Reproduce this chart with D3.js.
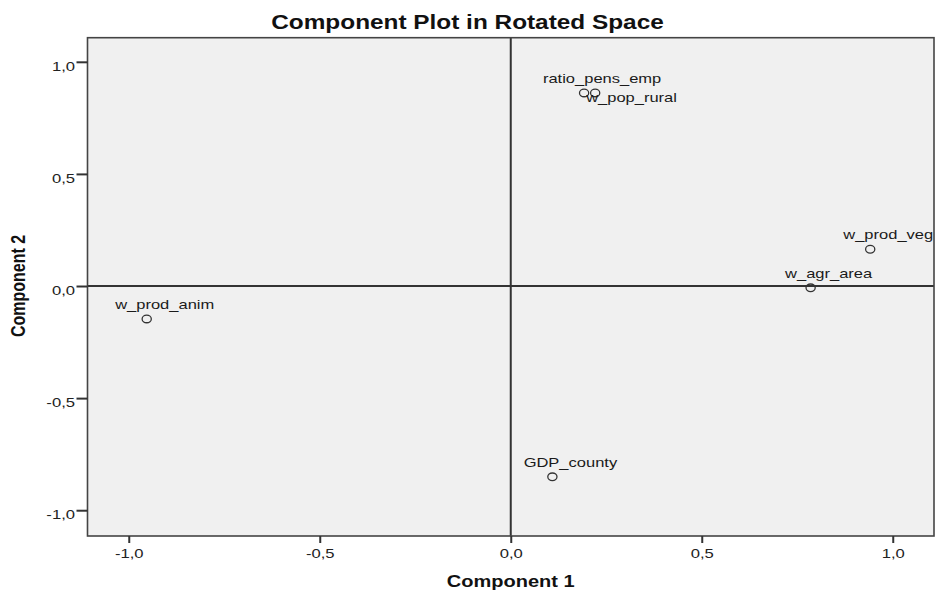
<!DOCTYPE html>
<html>
<head>
<meta charset="utf-8">
<script src="https://cdn.jsdelivr.net/npm/d3@7"></script>
<style>
  html, body { margin: 0; padding: 0; background: #fff; }
  svg { display: block; }
  text { font-family: "Liberation Sans", Arial, sans-serif; }
</style>
</head>
<body>
<svg id="chart" width="935" height="590"></svg>
<script>
// ---- data ----
const variables  = ["ratio_pens_emp", "w_pop_rural", "w_prod_veg", "w_agr_area", "w_prod_anim", "GDP_county"];
const component1 = [0.192, 0.221, 0.941, 0.785, -0.953, 0.109];
const component2 = [0.861, 0.861, 0.164, -0.008, -0.147, -0.851];
const labelSide  = ["above", "below", "above", "above", "above", "above"];
const xTicks = [-1.0, -0.5, 0.0, 0.5, 1.0];
const yTicks = [-1.0, -0.5, 0.0, 0.5, 1.0];
const titleText = "Component Plot in Rotated Space";
const xTitle = "Component 1";
const yTitle = "Component 2";

// ---- layout ----
const W = 935, H = 590;
const mLeft = 87.5, mRight = 934, mTop = 37.7, mBottom = 536;
const SX = 1.25; // horizontal stretch of the original picture

const svg = d3.select("#chart");
const x = d3.scaleLinear().domain([-1.108, 1.108]).range([mLeft, mRight]);
const y = d3.scaleLinear().domain([-1.115, 1.1075]).range([mBottom, mTop]);

const loc = d3.formatLocale({decimal: ",", thousands: ".", grouping: [3], currency: ["", ""], minus: "-"});
const fmt = loc.format(".1f");

// plot background
svg.append("rect")
  .attr("x", mLeft).attr("y", mTop)
  .attr("width", mRight - mLeft).attr("height", mBottom - mTop)
  .attr("fill", "#f0f0f0");

svg.append("clipPath").attr("id", "clip")
  .append("rect").attr("x", mLeft).attr("y", mTop)
  .attr("width", mRight - mLeft).attr("height", mBottom - mTop);

// zero reference lines
svg.append("line")
  .attr("x1", x(0)).attr("x2", x(0)).attr("y1", mTop).attr("y2", mBottom)
  .attr("stroke", "#333").attr("stroke-width", 2);
svg.append("line")
  .attr("x1", mLeft).attr("x2", mRight).attr("y1", y(0)).attr("y2", y(0))
  .attr("stroke", "#333").attr("stroke-width", 2);

// points
const pts = variables.map((v, i) => ({name: v, c1: component1[i], c2: component2[i], side: labelSide[i]}));
const g = svg.append("g").attr("clip-path", "url(#clip)");
g.selectAll("ellipse").data(pts).join("ellipse")
  .attr("cx", d => x(d.c1)).attr("cy", d => y(d.c2))
  .attr("rx", 4.6).attr("ry", 3.8)
  .attr("fill", "none").attr("stroke", "#333").attr("stroke-width", 1.3);

g.selectAll("text.lbl").data(pts).join("text")
  .attr("class", "lbl")
  .attr("font-size", 13.2)
  .attr("fill", "#1a1a1a")
  .attr("text-anchor", d => d.side === "above" ? "middle" : "start")
  .attr("transform", d => {
    const px = x(d.c1), py = y(d.c2);
    return d.side === "above"
      ? `translate(${px + 18},${py - 10}) scale(${SX},1)`
      : `translate(${px - 9},${py + 9.5}) scale(${SX},1)`;
  })
  .text(d => d.name);

// frame
svg.append("rect")
  .attr("x", mLeft).attr("y", mTop)
  .attr("width", mRight - mLeft).attr("height", mBottom - mTop)
  .attr("fill", "none").attr("stroke", "#444").attr("stroke-width", 1.6);

// x axis
const xa = svg.append("g").attr("transform", `translate(0,${mBottom})`)
  .call(d3.axisBottom(x).tickValues(xTicks).tickSize(7).tickFormat(fmt));
xa.select(".domain").remove();
xa.selectAll(".tick line").attr("stroke", "#333").attr("stroke-width", 2);
xa.selectAll(".tick text")
  .attr("y", null).attr("dy", null)
  .attr("font-size", 13.3).attr("fill", "#222")
  .attr("font-family", "Liberation Sans, Arial, sans-serif")
  .attr("transform", `translate(0,22) scale(${SX},1)`);

// y axis
const ya = svg.append("g").attr("transform", `translate(${mLeft},0)`)
  .call(d3.axisLeft(y).tickValues(yTicks).tickSize(11).tickFormat(fmt));
ya.select(".domain").remove();
ya.selectAll(".tick line").attr("stroke", "#333").attr("stroke-width", 2);
ya.selectAll(".tick text")
  .attr("x", null).attr("dy", null)
  .attr("font-size", 13.3).attr("fill", "#222")
  .attr("font-family", "Liberation Sans, Arial, sans-serif")
  .attr("transform", `translate(-12.5,8.5) scale(${SX},1)`);

// titles
svg.append("text")
  .attr("text-anchor", "middle")
  .attr("font-weight", "bold").attr("font-size", 19.5).attr("fill", "#111")
  .attr("transform", `translate(${W / 2},29) scale(${SX},1)`)
  .text(titleText);

svg.append("text")
  .attr("text-anchor", "middle")
  .attr("font-weight", "bold").attr("font-size", 16).attr("fill", "#111")
  .attr("transform", `translate(${x(0)},587) scale(${SX},1)`)
  .text(xTitle);

svg.append("text")
  .attr("text-anchor", "middle")
  .attr("font-weight", "bold").attr("font-size", 16).attr("fill", "#111")
  .attr("transform", `translate(25,${y(0)}) scale(${SX},1) rotate(-90)`)
  .text(yTitle);
</script>
</body>
</html>
